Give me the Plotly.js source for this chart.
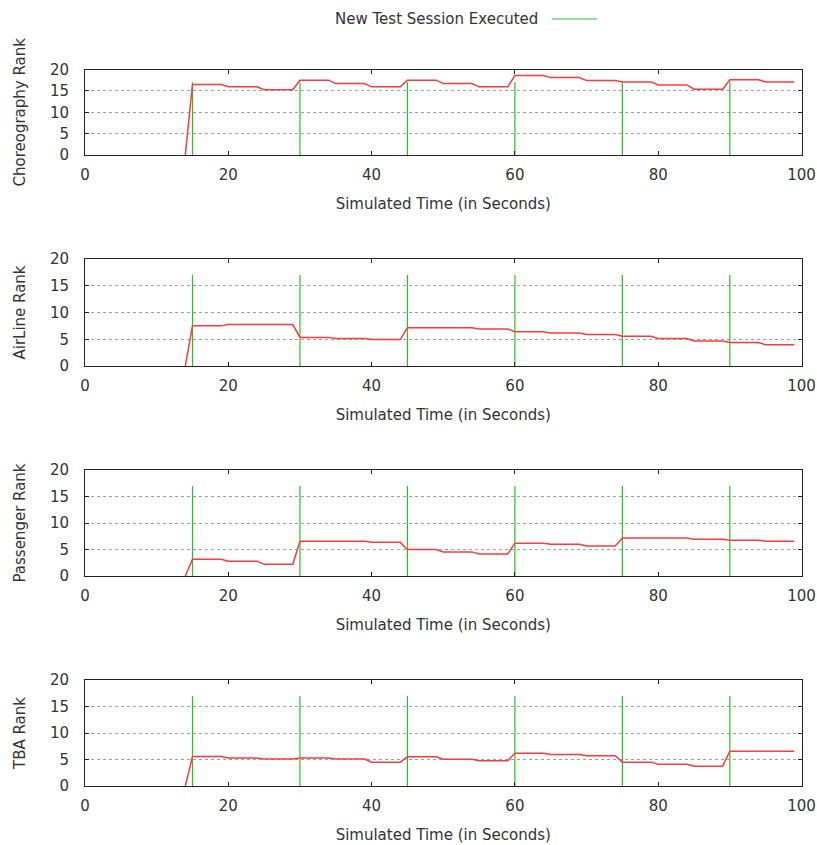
<!DOCTYPE html>
<html>
<head>
<meta charset="utf-8">
<script src="https://cdn.plot.ly/plotly-3.0.1.min.js"></script>
<style>html,body{margin:0;padding:0;background:#fff;}#chart{width:817px;height:845px;}</style>
</head>
<body>
<div id="chart"></div>
<script>
// ---- data ----
const rampStart = 14;                       // rank is 0 until this time
const blockStarts = [15,20,25,30,35,40,45,50,55,60,65,70,75,80,85,90,95];
const blockLength = 4;                      // each level holds for 4 s, then a 1 s ramp
const choreographyRank = [16.5,15.95,15.25,17.5,16.7,15.95,17.5,16.7,15.95,18.6,18.1,17.4,17.1,16.4,15.4,17.6,17.1];
const airlineRank      = [7.5,7.75,7.75,5.35,5.15,4.95,7.15,7.15,6.9,6.4,6.15,5.9,5.55,5.15,4.65,4.4,3.95];
const passengerRank    = [3.15,2.8,2.2,6.55,6.55,6.35,5.0,4.55,4.15,6.2,6.0,5.65,7.15,7.15,6.95,6.75,6.55];
const tbaRank          = [5.55,5.3,5.1,5.3,5.1,4.5,5.5,5.05,4.75,6.2,5.95,5.7,4.5,4.1,3.75,6.55,6.55];
const sessionTimes = [15,30,45,60,75,90];
const sessionMarkHeight = 17;
const panelTitles = ["Choreography Rank","AirLine Rank","Passenger Rank","TBA Rank"];
const xTitle = "Simulated Time (in Seconds)";
const legendLabel = "New Test Session Executed";

const series = [choreographyRank, airlineRank, passengerRank, tbaRank];

// ---- layout geometry (pixels in the 817x845 page) ----
const W = 817, H = 845;
const plotLeft = 85, plotRight = 801.5;
const panelPx = [[69.5,155],[259,366],[470,576],[680,786]];

const font = "DejaVu Sans, Verdana, sans-serif";
const FS = 15;
const txtColor = "#333";
const traces = [];
const layout = {
  width: W, height: H,
  margin: {l:0, r:0, t:0, b:0},
  paper_bgcolor: "#fff", plot_bgcolor: "#fff",
  showlegend: false,
  font: {family: font, size: FS, color: txtColor},
  annotations: [], shapes: []
};

series.forEach((vals, i) => {
  const n = i + 1;
  const sfx = n === 1 ? "" : String(n);
  const xs = [rampStart], ys = [0];
  blockStarts.forEach((t, k) => { xs.push(t, t + blockLength); ys.push(vals[k], vals[k]); });
  const gx = [], gy = [];
  sessionTimes.forEach(t => { gx.push(t, t, null); gy.push(0, sessionMarkHeight, null); });
  traces.push({
    type: "scatter", mode: "lines", x: gx, y: gy,
    xaxis: "x" + sfx, yaxis: "y" + sfx,
    line: {color: "#22c422", width: 1.2}, hoverinfo: "skip"
  });
  traces.push({
    type: "scatter", mode: "lines", x: xs, y: ys,
    xaxis: "x" + sfx, yaxis: "y" + sfx,
    line: {color: "#ff3a3a", width: 1.5}
  });
  const [top, bot] = panelPx[i];
  layout["xaxis" + sfx] = {
    domain: [plotLeft / W, plotRight / W],
    range: [0, 100], dtick: 20, tick0: 0,
    showgrid: false, zeroline: false,
    showline: true, mirror: "ticks", linecolor: "#222", linewidth: 1,
    ticks: "inside", ticklen: 4, tickcolor: "#222",
    ticklabelstandoff: 6,
    tickfont: {family: font, size: FS, color: txtColor},
    anchor: "y" + sfx,
    title: {text: xTitle, font: {family: font, size: FS, color: txtColor}, standoff: 15}
  };
  layout["yaxis" + sfx] = {
    domain: [1 - bot / H, 1 - top / H],
    range: [0, 20], dtick: 5, tick0: 0,
    showgrid: true, gridcolor: "#a0a0a0", griddash: "dot", gridwidth: 1,
    zeroline: false,
    showline: true, mirror: "ticks", linecolor: "#222", linewidth: 1,
    ticks: "inside", ticklen: 4, tickcolor: "#222",
    ticklabelstandoff: 12,
    tickfont: {family: font, size: FS, color: txtColor},
    anchor: "x" + sfx,
    title: {text: panelTitles[i], font: {family: font, size: FS, color: txtColor}, standoff: 20}
  };
});

// gnuplot-style key: label with the line sample to its right
layout.annotations.push({
  xref: "paper", yref: "paper", x: 540 / W, y: 1 - 19 / H,
  xanchor: "right", yanchor: "middle", showarrow: false,
  text: legendLabel, font: {family: font, size: FS, color: txtColor}
});
layout.shapes.push({
  type: "line", xref: "paper", yref: "paper",
  x0: 552 / W, x1: 597 / W, y0: 1 - 19 / H, y1: 1 - 19 / H,
  line: {color: "#22c422", width: 1.2}
});

Plotly.newPlot("chart", traces, layout, {staticPlot: true, displayModeBar: false});
</script>
</body>
</html>
